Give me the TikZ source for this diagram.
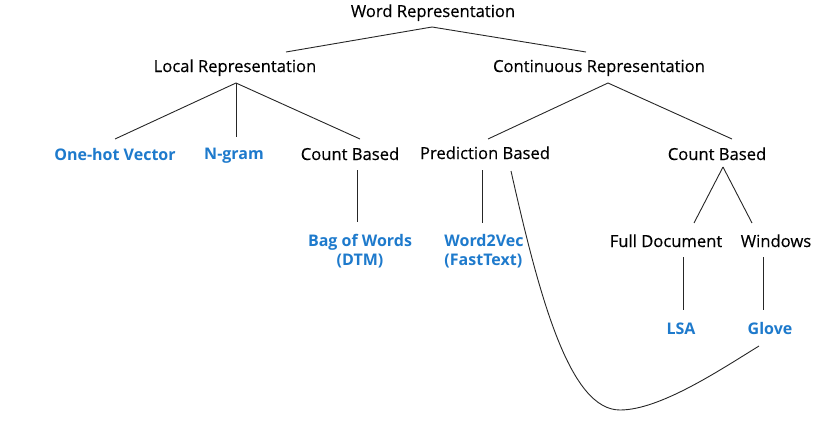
\documentclass[tikz,border=0pt]{standalone}
\usepackage{fontspec}
\setmainfont{Open Sans}
\newfontfamily\heavyreg[FakeBold=0.35]{Open Sans}
\definecolor{termblue}{RGB}{30,122,204}
\tikzset{
  lbl/.style={anchor=base, inner sep=0pt, font=\heavyreg\fontsize{16.6}{19}\selectfont, text=black},
  leaf/.style={anchor=base, inner sep=0pt, font=\fontsize{16}{19}\selectfont\bfseries, text=termblue},
  link/.style={draw=black!85, line width=0.9pt}
}
\begin{document}
\begin{tikzpicture}[x=1pt,y=-1pt]
\useasboundingbox (0,0) rectangle (820,439);
% nodes (anchor = baseline of last line)
\node[lbl] (word) at (433,17) {Word Representation};
\node[lbl] (local) at (235,72) {Local Representation};
\node[lbl] (cont) at (599,72) {Continuous Representation};
\node[leaf] (onehot) at (115,160) {One-hot Vector};
\node[leaf] (ngram) at (234,159) {N-gram};
\node[lbl] (countL) at (350,160) {Count Based};
\node[lbl] (pred) at (485,159) {Prediction Based};
\node[lbl] (countR) at (717,160) {Count Based};
\node[leaf, align=center] (bow) at (360,265) {Bag of Words\\(DTM)};
\node[leaf, align=left] (w2v) at (484,265) {Word2Vec\\(FastText)};
\node[lbl] (full) at (666,247) {Full Document};
\node[lbl] (win) at (776,247) {Windows};
\node[leaf] (lsa) at (681,334) {LSA};
\node[leaf] (glove) at (770,334) {Glove};
% connectors
\draw[link] ([shift={(51,-20)}]local.base) -- ([shift={(-1,10)}]word.base) -- ([shift={(-13,-20)}]cont.base);
\draw[link] ([shift={(1,11)}]local.base) -- ([shift={(0,-21)}]onehot.base);
\draw[link] ([shift={(1,11)}]local.base) -- ([shift={(2,-22)}]ngram.base);
\draw[link] ([shift={(1,11)}]local.base) -- ([shift={(10,-21)}]countL.base);
\draw[link] ([shift={(9,11)}]cont.base) -- ([shift={(3,-20)}]pred.base);
\draw[link] ([shift={(9,11)}]cont.base) -- ([shift={(15,-21)}]countR.base);
\draw[link] ([shift={(7,10)}]countL.base) -- ([shift={(-3,-43)}]bow.base);
\draw[link] ([shift={(-3,11)}]pred.base) -- ([shift={(-2,-42)}]w2v.base);
\draw[link] ([shift={(6,7)}]countR.base) -- ([shift={(28,-24)}]full.base);
\draw[link] ([shift={(6,7)}]countR.base) -- ([shift={(-24,-24)}]win.base);
\draw[link] ([shift={(17,10)}]full.base) -- ([shift={(2,-24)}]lsa.base);
\draw[link] ([shift={(-13,10)}]win.base) -- ([shift={(-7,-24)}]glove.base);
\draw[link] ([shift={(26,12)}]pred.base) .. controls (540,300) and (570,410) .. (620,410)
  .. controls (660,410) and (720,370) .. ([shift={(-11,12)}]glove.base);
\end{tikzpicture}
\end{document}
